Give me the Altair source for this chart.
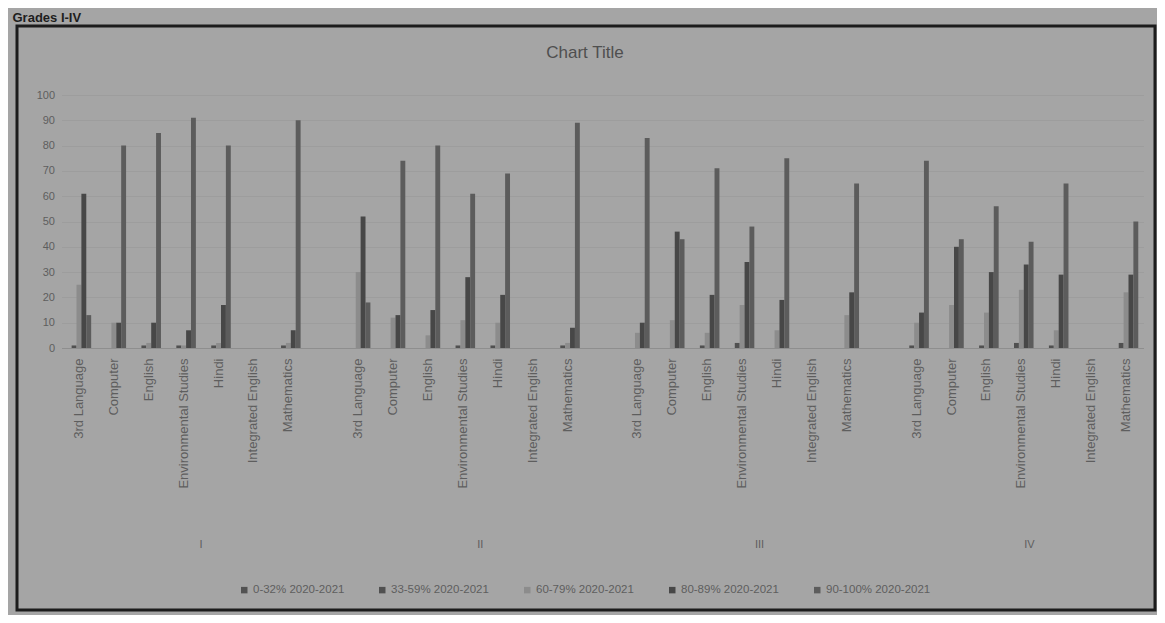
import altair as alt
import pandas as pd

grades = ["I", "II", "III", "IV"]
subjects = ["3rd Language", "Computer", "English", "Environmental Studies",
            "Hindi", "Integrated English", "Mathematics"]
series = ["0-32% 2020-2021", "33-59% 2020-2021", "60-79% 2020-2021",
          "80-89% 2020-2021", "90-100% 2020-2021"]

# values per series, grade-major (I: 7 subjects, II: 7, III: 7, IV: 7)
v_0_32 = [0, 0, 0, 0, 0, None, 0,
          0, 0, 0, 0, 0, None, 0,
          0, 0, 0, 0, 0, None, 0,
          0, 0, 0, 0, 0, None, 0]
v_33_59 = [1, 0, 1, 1, 1, None, 1,
           0, 0, 0, 1, 1, None, 1,
           0, 0, 1, 2, 0, None, 0,
           1, 0, 1, 2, 1, None, 2]
v_60_79 = [25, 10, 2, 1, 2, None, 2,
           30, 12, 5, 11, 10, None, 2,
           6, 11, 6, 17, 7, None, 13,
           10, 17, 14, 23, 7, None, 22]
v_80_89 = [61, 10, 10, 7, 17, None, 7,
           52, 13, 15, 28, 21, None, 8,
           10, 46, 21, 34, 19, None, 22,
           14, 40, 30, 33, 29, None, 29]
v_90_100 = [13, 80, 85, 91, 80, None, 90,
            18, 74, 80, 61, 69, None, 89,
            83, 43, 71, 48, 75, None, 65,
            74, 43, 56, 42, 65, None, 50]
series_values = [v_0_32, v_33_59, v_60_79, v_80_89, v_90_100]
colors = ["#525252", "#505050", "#8c8c8c", "#474747", "#5c5c5c"]

rows = []
for gi, g in enumerate(grades):
    for si, s in enumerate(subjects):
        for k, name in enumerate(series):
            rows.append({"slot": f"{g}|{s}", "series": name,
                         "value": series_values[k][gi * 7 + si]})
df = pd.DataFrame(rows)

slots = []
for gi, g in enumerate(grades):
    slots += [f"{g}|{s}" for s in subjects]
    if gi < len(grades) - 1:
        slots.append(f"{g}|")

FONT = "Liberation Sans, Arial, sans-serif"
TXT = "#5e5e5e"

x_enc = alt.X(
    "slot:N",
    scale=alt.Scale(domain=slots, paddingInner=0.3, paddingOuter=0.15),
    axis=alt.Axis(title=None, labelExpr="split(datum.label, '|')[1]",
                  labelAngle=-90, labelAlign="right", labelBaseline="middle",
                  labelPadding=10, labelFont=FONT, labelFontSize=13,
                  labelColor=TXT, labelLimit=300, labelOverlap=False,
                  ticks=False, domain=True, domainColor="#8e8e8e", grid=False),
)

bars = alt.Chart(df).mark_bar().encode(
    x=x_enc,
    xOffset=alt.XOffset("series:N", scale=alt.Scale(domain=series, paddingInner=0, paddingOuter=0)),
    y=alt.Y("value:Q", scale=alt.Scale(domain=[0, 100]),
            axis=alt.Axis(title=None, values=list(range(0, 101, 10)), domain=False,
                          ticks=False, grid=True, gridColor="#9d9d9d", gridWidth=1,
                          labelPadding=7, labelFont=FONT, labelFontSize=11,
                          labelColor=TXT)),
    color=alt.Color("series:N", scale=alt.Scale(domain=series, range=colors),
                    legend=alt.Legend(title=None, orient="none", legendX=177, legendY=489,
                                      direction="horizontal", symbolType="square",
                                      symbolSize=42, symbolStrokeWidth=0,
                                      labelFont=FONT, labelFontSize=11.5,
                                      labelColor=TXT, columnPadding=32,
                                      labelOffset=3)),
)

grade_df = pd.DataFrame({"slot": ["I|Hindi", "II|Hindi", "III|Hindi"],
                         "label": ["I", "II", "III"]})
grade_text = alt.Chart(grade_df).mark_text(
    dx=-17.45, font=FONT, fontSize=11, color=TXT
).encode(x=x_enc, y=alt.value(450), text="label:N")

iv_df = pd.DataFrame({"slot": ["IV|Environmental Studies"], "label": ["IV"]})
iv_text = alt.Chart(iv_df).mark_text(
    dx=8, font=FONT, fontSize=11, color=TXT
).encode(x=x_enc, y=alt.value(450), text="label:N")

one = pd.DataFrame({"t": ["Chart Title"]})
title_text = alt.Chart(one).mark_text(
    font=FONT, fontSize=17, color="#4f4f4f", baseline="alphabetic"
).encode(x=alt.value(523.5), y=alt.value(-37), text="t:N")

hdr = pd.DataFrame({"t": ["Grades I-IV"]})
hdr_text = alt.Chart(hdr).mark_text(
    font=FONT, fontSize=13, fontWeight="bold", color="#1e1e1e",
    align="left", baseline="alphabetic"
).encode(x=alt.value(-49), y=alt.value(-73), text="t:N")

frame = alt.Chart(pd.DataFrame({"a": [0]})).mark_rect(
    fill="transparent", stroke="#1c1c1c", strokeWidth=3
).encode(x=alt.value(-44.5), x2=alt.value(1093.5), y=alt.value(-69), y2=alt.value(515))

chart = alt.layer(frame, bars, grade_text, iv_text, title_text, hdr_text).properties(
    width=1082, height=253,
    padding={"left": 53.5, "top": 87, "right": 13.5, "bottom": 267},
    autosize=alt.AutoSizeParams(type="none"),
).configure(background="#a5a5a5").configure_view(stroke=None)

chart.save("out.html", embed_options={"renderer": "svg", "actions": False})
